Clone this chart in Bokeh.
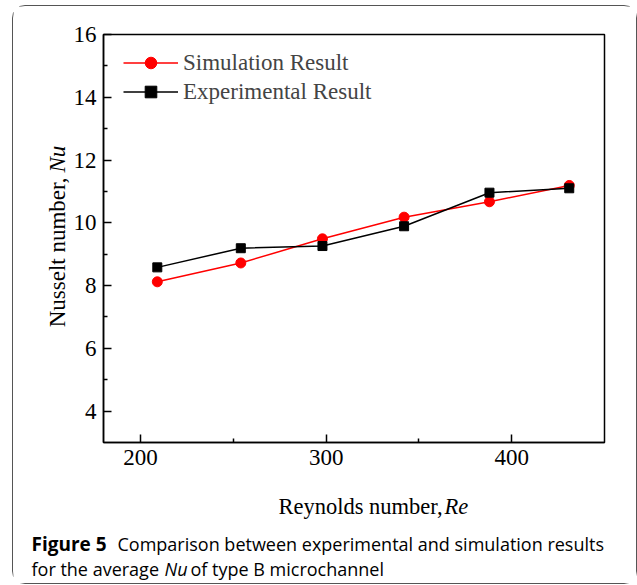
import math
from bokeh.plotting import figure
from bokeh.layouts import column, row
from bokeh.models import Label, FixedTicker, Range1d, Legend, LegendItem
from bokeh.embed import file_html
from bokeh.resources import INLINE

# ---- data ----
reynolds = [209, 254, 298, 342, 388, 431]
nu_simulation = [8.12, 8.72, 9.49, 10.18, 10.67, 11.19]
nu_experiment = [8.58, 9.19, 9.26, 9.89, 10.96, 11.10]
x_ticks = [200, 300, 400]
x_minor = [250, 350]
y_ticks = [4, 6, 8, 10, 12, 14, 16]
y_minor = [5, 7, 9, 11, 13, 15]

SERIF = "Liberation Serif"
SANS = "Open Sans"

# page geometry (pixels)
BOX_L, BOX_T, BOX_R, BOX_B = 13, 6, 636, 583      # rounded outer border
SPLIT_X, SPLIT_Y = 70, 480                          # left strip / bottom strip
FL, FR, FT, FB = 103, 604, 34, 442                  # plot frame

main_w, main_h = BOX_R - SPLIT_X, SPLIT_Y - BOX_T
p = figure(width=main_w, height=main_h, output_backend="svg", toolbar_location=None,
           x_range=Range1d(180, 450), y_range=Range1d(3, 16),
           min_border_left=FL - SPLIT_X, min_border_right=BOX_R - FR,
           min_border_top=FT - BOX_T, min_border_bottom=SPLIT_Y - FB)
p.title.visible = False
p.xgrid.visible = False
p.ygrid.visible = False
p.outline_line_color = "black"
p.outline_line_width = 1.5
p.background_fill_color = "white"
p.border_fill_color = "white"

p.xaxis.ticker = FixedTicker(ticks=x_ticks, minor_ticks=x_minor)
p.yaxis.ticker = FixedTicker(ticks=y_ticks, minor_ticks=y_minor)
for axes in (p.xaxis, p.yaxis):
    axes.axis_line_color = "black"
    axes.axis_line_width = 1.5
    axes.major_tick_line_color = "black"
    axes.major_tick_line_width = 1.5
    axes.minor_tick_line_color = "black"
    axes.minor_tick_line_width = 1.5
    axes.major_tick_in = 8
    axes.major_tick_out = 0
    axes.minor_tick_in = 4
    axes.minor_tick_out = 0
    axes.major_label_text_font = SERIF
    axes.major_label_text_font_size = "23px"
    axes.major_label_text_color = "black"
    axes.major_label_standoff = 7

r_sim_l = p.line(reynolds, nu_simulation, line_color="red", line_width=1.5)
r_sim_m = p.scatter(reynolds, nu_simulation, marker="circle", size=10,
                    fill_color="red", line_color="red")
r_exp_l = p.line(reynolds, nu_experiment, line_color="black", line_width=1.5)
r_exp_m = p.scatter(reynolds, nu_experiment, marker="square", size=9,
                    fill_color="black", line_color="black")

legend = Legend(items=[
    LegendItem(label="Simulation Result", renderers=[r_sim_l, r_sim_m]),
    LegendItem(label="Experimental Result", renderers=[r_exp_l, r_exp_m]),
], location=(12, 328), margin=0, padding=8, spacing=0,
    glyph_width=55, glyph_height=29, label_standoff=5,
    label_text_font=SERIF, label_text_font_size="23px",
    border_line_alpha=0, background_fill_alpha=0)
p.add_layout(legend)


def text_panel(w, h):
    f = figure(width=w, height=h, output_backend="svg", toolbar_location=None,
               x_axis_location=None, y_axis_location=None,
               x_range=Range1d(0, 1), y_range=Range1d(0, 1),
               min_border=0)
    f.title.visible = False
    f.xgrid.visible = False
    f.ygrid.visible = False
    f.outline_line_color = None
    f.background_fill_color = "white"
    f.border_fill_color = "white"
    return f


left = text_panel(SPLIT_X - BOX_L, SPLIT_Y - BOX_T)
bottom = text_panel(BOX_R - BOX_L, BOX_B - SPLIT_Y)


def lab(fig, frame_left, frame_bottom, text, px, py, font, size, style="normal",
        align="left", angle=0.0):
    fig.add_layout(Label(x=px - frame_left, y=frame_bottom - py,
                         x_units="screen", y_units="screen",
                         text=text, text_font=font, text_font_size=size,
                         text_font_style=style, text_color="black",
                         text_align=align, text_baseline="alphabetic", angle=angle))


# left strip: its frame is aligned with the main frame vertically
LF_L, LF_B = BOX_L, FB
# bottom strip
BF_L, BF_B = BOX_L, BOX_B

# y axis label (rotated)
lab(left, LF_L, LF_B, "Nusselt number,", 57, 177, SERIF, "23px", align="right", angle=math.pi / 2)
lab(left, LF_L, LF_B, "Nu", 57, 172, SERIF, "23px", style="italic", angle=math.pi / 2)

# x axis label
lab(bottom, BF_L, BF_B, "Reynolds number,", 442, 506, SERIF, "22.5px", align="right")
lab(bottom, BF_L, BF_B, "Re", 444, 506, SERIF, "22.5px", style="italic")

# caption
lab(bottom, BF_L, BF_B, "Figure 5", 31, 543, SANS, "19px", style="bold")
lab(bottom, BF_L, BF_B, "Comparison between experimental and simulation results", 117, 543, SANS, "18px")
lab(bottom, BF_L, BF_B, "for the average", 31, 568, SANS, "18px")
lab(bottom, BF_L, BF_B, "Nu", 164, 568, SANS, "18px", style="italic")
lab(bottom, BF_L, BF_B, "of type B microchannel", 190, 568, SANS, "18px")

layout = column(row(left, p, spacing=0), bottom, spacing=0,
                margin=(BOX_T, 637 - BOX_R, 585 - BOX_B, BOX_L),
                styles={"outline": "1.2px solid #555555", "border-radius": "12px"})

open("out.html", "w").write(file_html(layout, INLINE))
